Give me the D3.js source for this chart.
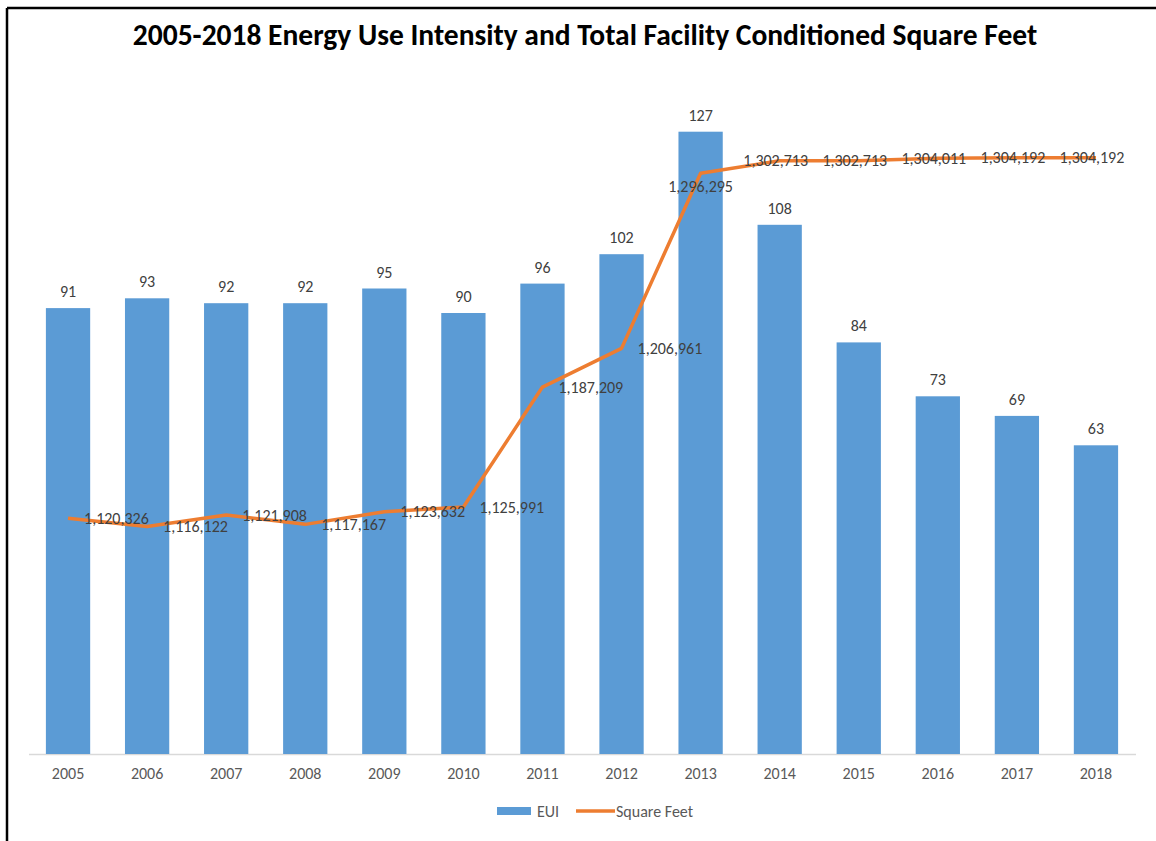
<!DOCTYPE html>
<html>
<head>
<meta charset="utf-8">
<script src="https://cdn.jsdelivr.net/npm/d3@7"></script>
<style>
  body { margin: 0; background: #fff; }
  svg { display: block; }
</style>
</head>
<body>
<svg id="chart" width="1156" height="841"></svg>
<script>
let years = ['2005','2006','2007','2008','2009','2010','2011','2012','2013','2014','2015','2016','2017','2018']
let eui = [91,93,92,92,95,90,96,102,127,108,84,73,69,63]
let sqft = [1120326,1116122,1121908,1117167,1123632,1125991,1187209,1206961,1296295,1302713,1302713,1304011,1304192,1304192]
// where Excel put each square-feet label relative to its point
let sqftLabelPos = ['right','right','right','right','right','right','right','right','below','center','center','center','center','center']

let blue = '#5B9BD5'
let orange = '#ED7D31'
let font = "Calibri, Carlito, 'Open Sans', sans-serif"

let svg = d3.select('#chart')

// frame (only top and left edges show in the picture)
svg.append('line').attr('x1',7).attr('x2',1156).attr('y1',8).attr('y2',8)
  .attr('stroke','#000').attr('stroke-width',2.5)
svg.append('line').attr('x1',7).attr('x2',7).attr('y1',8).attr('y2',841)
  .attr('stroke','#000').attr('stroke-width',2.5)

svg.append('text')
  .attr('x',585).attr('y',45)
  .attr('text-anchor','middle')
  .attr('font-family',font)
  .attr('font-weight','bold')
  .attr('font-size',29.5)
  .attr('fill','#000')
  .text('2005-2018 Energy Use Intensity and Total Facility Conditioned Square Feet')

let x = d3.scaleBand()
  .domain(years)
  .range([28.5, 1135.5])
  .paddingInner(0.44)
  .paddingOuter(0.22)

let y = d3.scaleLinear().domain([0,140]).range([754,68])
let y2 = d3.scaleLinear().domain([1000000,1350000]).range([754,68])

// x axis
let xAxis = svg.append('g')
  .attr('transform','translate(0,754)')
  .call(d3.axisBottom(x).tickSize(0).tickPadding(14))
xAxis.select('.domain').attr('stroke','#d9d9d9').attr('stroke-width',1.5)
xAxis.selectAll('text')
  .attr('font-family',font).attr('font-size',16).attr('fill','#595959')

// bars
svg.selectAll('rect.bar')
  .data(eui)
  .enter()
  .append('rect')
  .attr('class','bar')
  .attr('x',function(d,i){ return x(years[i]) })
  .attr('width',x.bandwidth())
  .attr('y',function(d){ return y(d) })
  .attr('height',function(d){ return 754 - y(d) })
  .attr('fill',blue)

svg.selectAll('text.barlabel')
  .data(eui)
  .enter()
  .append('text')
  .attr('class','barlabel')
  .attr('x',function(d,i){ return x(years[i]) + x.bandwidth()/2 })
  .attr('y',function(d){ return y(d) - 11 })
  .attr('text-anchor','middle')
  .attr('font-family',font).attr('font-size',16).attr('fill','#404040')
  .text(function(d){ return d })

// line
let cx = function(i){ return x(years[i]) + x.bandwidth()/2 }
svg.append('path')
  .datum(sqft)
  .attr('fill','none')
  .attr('stroke',orange)
  .attr('stroke-width',3.5)
  .attr('stroke-linejoin','round')
  .attr('d', d3.line()
    .x(function(d,i){ return cx(i) })
    .y(function(d){ return y2(d) }))

let fmt = d3.format(',')
svg.selectAll('text.linelabel')
  .data(sqft)
  .enter()
  .append('text')
  .attr('class','linelabel')
  .attr('x',function(d,i){
    if(sqftLabelPos[i]=='right') return cx(i) + 16
    if(sqftLabelPos[i]=='center') return cx(i) - 4
    return cx(i)
  })
  .attr('y',function(d,i){ return sqftLabelPos[i]=='below' ? y2(d) + 13 : y2(d) })
  .attr('text-anchor',function(d,i){ return sqftLabelPos[i]=='right' ? 'start' : 'middle' })
  .attr('dy','0.35em')
  .attr('font-family',font).attr('font-size',16).attr('fill','#404040')
  .text(function(d){ return fmt(d) })

// legend
let legend = svg.append('g').attr('transform','translate(0,811)')
legend.append('rect').attr('x',497).attr('y',-4).attr('width',34).attr('height',8).attr('fill',blue)
legend.append('text').attr('x',537).attr('y',0).attr('dy','0.35em')
  .attr('font-family',font).attr('font-size',16).attr('fill','#595959').text('EUI')
legend.append('line').attr('x1',576).attr('x2',615).attr('y1',0).attr('y2',0)
  .attr('stroke',orange).attr('stroke-width',3.5)
legend.append('text').attr('x',616).attr('y',0).attr('dy','0.35em')
  .attr('font-family',font).attr('font-size',16).attr('fill','#595959').text('Square Feet')
</script>
</body>
</html>
